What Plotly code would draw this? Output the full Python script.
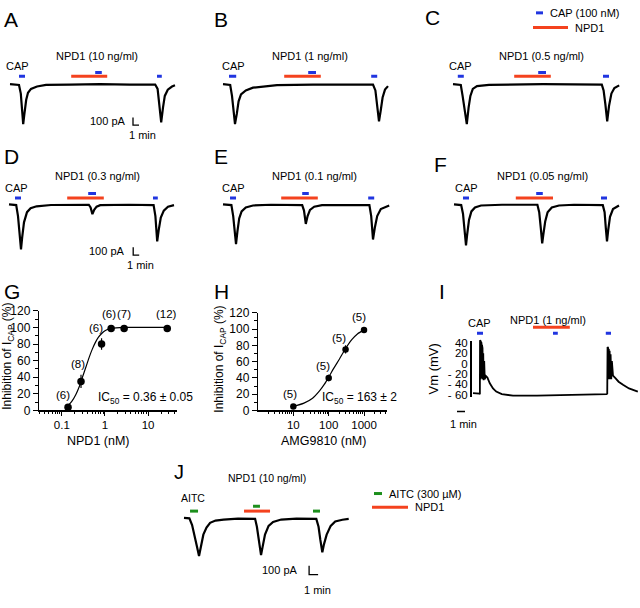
import math
import plotly.graph_objects as go

W, H = 640, 608
FONT = "Liberation Sans, Arial, Helvetica, sans-serif"
BLUE, RED, GREEN, BLACK = "#2035e0", "#f4421e", "#1c8f1c", "#000000"

# ---------------- data ----------------
# Panels A-F: whole-cell current traces, time (min) / current (pA)
A_t = [0, 1.5, 1.8, 2.0, 2.2, 2.4, 2.7, 3.0, 3.5, 4.5, 6, 10, 15, 20, 24.2, 24.6, 24.9, 25.2, 25.5, 25.8, 26.3, 27, 27.5]
A_i = [0, -10, -120, -300, -510, -380, -200, -110, -60, -30, -10, -5, 0, -5, -5, -60, -250, -490, -300, -150, -70, -30, -15]
B_t = [0, 1.2, 1.5, 1.8, 2.0, 2.3, 2.6, 3.0, 3.8, 5, 7, 9, 15, 20, 25, 25.4, 25.7, 26.0, 26.3, 26.6, 27, 27.5]
B_i = [0, -10, -150, -380, -510, -380, -220, -130, -80, -45, -25, -12, -5, -3, -5, -80, -300, -475, -330, -170, -70, -25]
C_t = [0, 1.3, 1.6, 1.9, 2.3, 2.6, 2.9, 3.3, 4, 6, 15, 24.8, 25.1, 25.4, 25.7, 26.0, 26.4, 26.9, 27.7]
C_i = [0, -10, -150, -330, -510, -300, -150, -60, -25, -8, 0, -5, -80, -260, -475, -280, -120, -50, -15]
D_t = [0, 1.2, 1.5, 1.8, 2.0, 2.2, 2.5, 3.0, 3.6, 4.6, 7, 13.3, 13.6, 13.9, 14.2, 14.6, 15.2, 20, 24.1, 24.4, 24.7, 24.95, 25.3, 25.8, 26.5, 27.5]
D_i = [0, -10, -150, -400, -575, -420, -230, -100, -50, -25, -8, -5, -40, -125, -70, -30, -10, -5, -10, -150, -475, -330, -170, -80, -30, -10]
E_t = [0, 1.4, 1.7, 2.0, 2.17, 2.4, 2.7, 3.1, 3.8, 5, 8, 13.2, 13.5, 13.8, 14.1, 14.5, 15.2, 16.5, 24.4, 24.7, 25.0, 25.3, 25.7, 26.3, 27.7]
E_i = [0, -10, -150, -380, -510, -350, -180, -90, -40, -15, -5, -10, -80, -250, -150, -70, -30, -10, -10, -150, -450, -300, -150, -60, -15]
F_t = [0, 1.2, 1.5, 1.8, 2.0, 2.2, 2.5, 2.9, 3.5, 4.5, 8, 13.9, 14.2, 14.5, 14.7, 14.9, 15.2, 15.6, 16.3, 17.5, 20, 24.8, 25.1, 25.3, 25.5, 25.7, 26.0, 26.5, 27.5]
F_i = [0, -10, -120, -350, -525, -380, -200, -90, -40, -15, -5, -5, -100, -330, -500, -380, -220, -100, -40, -15, -5, -10, -100, -300, -475, -330, -160, -60, -15]

# stimulus windows (min)
A_cap = [[1.5, 2.5], [14.2, 15.3], [24.5, 25.3]]
B_cap = [[1.0, 2.2], [14.2, 15.5], [24.7, 25.7]]
C_cap = [[0.8, 1.8], [14.2, 15.5], [25.0, 26.0]]
D_cap = [[1.0, 2.0], [13.2, 14.5], [24.0, 24.8]]
E_cap = [[1.17, 2.17], [13.2, 14.3], [24.2, 25.2]]
F_cap = [[1.5, 2.5], [13.7, 14.8], [24.5, 25.5]]
A_npd, B_npd, C_npd = [10.2, 16.2], [10.2, 16.3], [10.2, 16.3]
D_npd, E_npd, F_npd = [9.7, 15.8], [9.7, 15.8], [10.3, 16.5]
conc_labels = ["NPD1 (10 ng/ml)", "NPD1 (1 ng/ml)", "NPD1 (0.5 ng/ml)",
               "NPD1 (0.3 ng/ml)", "NPD1 (0.1 ng/ml)", "NPD1 (0.05 ng/ml)"]

# Panel J: AITC current, time (min) / current (pA)
J_t = [0, 0.6, 0.9, 1.2, 1.45, 1.67, 1.85, 2.15, 2.5, 2.9, 3.5, 4.4, 6, 7.9, 8.1, 8.3, 8.56, 8.75, 9.0, 9.4, 9.9, 10.8, 12.5,
       14.7, 14.95, 15.15, 15.37, 15.55, 15.85, 16.3, 16.8, 17.6, 18.3]
J_i = [0, -5, -80, -200, -330, -433, -330, -190, -110, -55, -30, -18, -8, -10, -100, -260, -422, -320, -190, -90, -45, -18, -8,
       -10, -100, -250, -390, -300, -190, -90, -40, -20, -10]
J_aitc = [[0.67, 1.56], [7.67, 8.44], [14.33, 15.11]]
J_npd = [6.67, 9.56]

# Panel I: membrane potential, time (min) / Vm (mV)
I_t = [0, 0.5, 0.8, 0.86, 0.88, 0.91, 0.94, 0.97, 1.0, 1.03, 1.06, 1.09, 1.12, 1.15, 1.19, 1.23, 1.28, 1.33, 1.4, 1.47,
       1.6, 1.8, 2.1, 2.5, 2.9, 3.6, 5, 8, 12, 16, 16.7, 16.78, 16.82, 16.86, 16.9, 16.94, 16.98, 17.03, 17.08, 17.14,
       17.2, 17.28, 17.36, 17.5, 17.8, 18.2, 18.75, 19.5, 20.6]
I_v = [-57, -57, -58, -59, 45, -35, 44, -30, 42, -28, 40, -28, 36, -28, 30, -30, 20, -32, 5, -30,
       -24, -27, -38, -48, -54, -59, -62, -62, -61, -60, -59, -58, 32, -35, 30, -30, 28, -30, 25, -30,
       18, -30, 5, -23, -28, -35, -41, -48, -54]
I_cap = [[0.5, 1.25], [10.0, 10.6], [16.6, 17.25]]
I_npd = [7.5, 12.1]
I_ticks = [-60, -40, -20, 0, 20, 40]
I_ticktext = ["- 60", "- 40", "- 20", "0", "20", "40"]

# Panel G: NPD1 dose-response
G_x = [0.139, 0.278, 0.833, 1.39, 2.78, 27.8]
G_y = [4, 35, 80, 98.8, 98.8, 98.8]
G_err = [2, 8, 7, 1.5, 1.5, 1.5]
G_n = ["(6)", "(8)", "(6)", "(6)", "(7)", "(12)"]
G_fit_x = [0.139, 0.17, 0.21, 0.25, 0.3, 0.36, 0.43, 0.5, 0.6, 0.7, 0.85, 1.0, 1.3, 1.8, 3, 10, 27.8]
G_fit_y = [6, 11, 19, 28, 40, 52, 64, 73, 82, 88, 93, 96, 98.5, 99.5, 100, 100, 100]
# Panel H: AMG9810 dose-response
H_x = [10, 100, 300, 1000]
H_y = [5, 40, 75, 99]
H_err = [1, 4, 5, 1]
H_n = ["(5)", "(5)", "(5)", "(5)"]
H_fit_x = [10, 20, 35, 55, 75, 100, 140, 200, 300, 450, 650, 1000]
H_fit_y = [5, 9, 15, 24, 32, 41, 52, 63, 76, 87, 94, 99]

# ---------------- helpers ----------------
def PX(x):
    return x / W


def PY(y):
    return 1 - y / H


fig = go.Figure()
layout = dict(width=W, height=H, autosize=False, margin=dict(l=0, r=0, t=0, b=0),
              paper_bgcolor="white", plot_bgcolor="rgba(0,0,0,0)", showlegend=False)
ann, shapes = [], []


def axnames(n):
    if n == 1:
        return "x", "y", "xaxis", "yaxis"
    return f"x{n}", f"y{n}", f"xaxis{n}", f"yaxis{n}"


def hidden_axes(n, x0, base, ppm, ppa, xr, yr):
    xa, ya, xk, yk = axnames(n)
    layout[xk] = dict(domain=[PX(x0 + xr[0] * ppm), PX(x0 + xr[1] * ppm)], range=xr,
                      visible=False, anchor=ya, fixedrange=True)
    layout[yk] = dict(domain=[PY(base - yr[0] * ppa), PY(base - yr[1] * ppa)], range=yr,
                      visible=False, anchor=xa, fixedrange=True)
    return xa, ya


def seg(xa, ya, x, y, color, width):
    fig.add_trace(go.Scatter(x=x, y=y, mode="lines", xaxis=xa, yaxis=ya, hoverinfo="skip",
                             line=dict(color=color, width=width)))


def text(s, x, y, xref, yref, size=11, xanchor="center", angle=0):
    ann.append(dict(text=s, x=x, y=y, xref=xref, yref=yref, showarrow=False, xanchor=xanchor,
                    yanchor="middle", textangle=angle, font=dict(family=FONT, size=size, color=BLACK)))


def letter(s, x, y, size=21):
    ann.append(dict(text=s, x=PX(x), y=PY(y), xref="paper", yref="paper", showarrow=False,
                    xanchor="left", yanchor="middle", font=dict(family=FONT, size=size, color=BLACK)))


def scalebar(xa, ya, tsb, ysb, t_len, i_len, lab_gap, min_dx, min_dy):
    seg(xa, ya, [tsb, tsb, tsb + t_len], [ysb, ysb - i_len, ysb - i_len], BLACK, 1.3)
    text("100 pA", tsb - lab_gap, ysb - i_len / 2, xa, ya, xanchor="right")
    text("1 min", tsb + min_dx, ysb - i_len - min_dy, xa, ya)


# ---------------- panels A-F ----------------
rows = [
    # t, i, caps, npd, x0, base, t_text, t_cap, levels(bar, mid, text, cap), scalebar
    (A_t, A_i, A_cap, A_npd, 10, 79, 14.5, 1.3, (100, 150, 362, 237), (20.5, -425, 0.8, 1.5, 125)),
    (B_t, B_i, B_cap, B_npd, 223, 79, 14.5, 1.7, (100, 150, 362, 237), None),
    (C_t, C_i, C_cap, C_npd, 453, 79, 14.8, 1.3, (100, 150, 362, 237), None),
    (D_t, D_i, D_cap, D_npd, 9, 202, 14.7, 1.3, (80, 140, 362, 212), (20.7, -550, 1.1, 1.2, 125)),
    (E_t, E_i, E_cap, E_npd, 223, 202, 15.2, 1.7, (80, 140, 362, 212), None),
    (F_t, F_i, F_cap, F_npd, 454, 202, 14.8, 2.0, (80, 140, 362, 212), None),
]
for k, (t, cur, caps, npd, x0, base, t_txt, t_cap, lv, sb) in enumerate(rows):
    n = k + 1
    xa, ya = hidden_axes(n, x0, base, 6, 0.08, [-1.5, 30], [-800, 450])
    seg(xa, ya, npd, [lv[0], lv[0]], RED, 3)
    for j, (s, e) in enumerate(caps):
        l = lv[1] if j == 1 else lv[0]
        seg(xa, ya, [s, e], [l, l], BLUE, 3)
    seg(xa, ya, t, cur, BLACK, 2.2)
    text(conc_labels[k], t_txt, lv[2], xa, ya)
    text("CAP", t_cap, lv[3], xa, ya)
    if sb:
        scalebar(xa, ya, sb[0], sb[1], 1, 100, sb[2], sb[3], sb[4])

# legend of panel C
shapes.append(dict(type="line", xref="paper", yref="paper", x0=PX(536), x1=PX(543), y0=PY(6), y1=PY(6),
                   line=dict(color=BLUE, width=3)))
text("CAP (100 nM)", PX(548), PY(6), "paper", "paper", xanchor="left")
shapes.append(dict(type="line", xref="paper", yref="paper", x0=PX(533), x1=PX(568), y0=PY(21), y1=PY(21),
                   line=dict(color=RED, width=3)))
text("NPD1", PX(573), PY(21), "paper", "paper", xanchor="left")

# ---------------- panel J ----------------
xa, ya = hidden_axes(7, 184, 523, 9, 0.09, [-1, 20], [-900, 600])
seg(xa, ya, J_npd, [78, 78], RED, 3)
for j, (s, e) in enumerate(J_aitc):
    l = 133 if j == 1 else 78
    seg(xa, ya, [s, e], [l, l], GREEN, 3)
seg(xa, ya, J_t, J_i, BLACK, 2.2)
text("NPD1 (10 ng/ml)", 9.2, 455, xa, ya, size=10.5)
text("AITC", 1.0, 222, xa, ya, size=10.5)
scalebar(xa, ya, 13.9, -544, 1, 100, 1.0, 0.9, 178)
shapes.append(dict(type="line", xref="paper", yref="paper", x0=PX(374), x1=PX(382), y0=PY(498), y1=PY(498),
                   line=dict(color=GREEN, width=3)))
text("AITC (300 \u00b5M)", PX(387), PY(498), "paper", "paper", xanchor="left")
shapes.append(dict(type="line", xref="paper", yref="paper", x0=PX(372), x1=PX(408), y0=PY(512), y1=PY(512),
                   line=dict(color=RED, width=3)))
text("NPD1", PX(413), PY(512), "paper", "paper", xanchor="left")

# ---------------- panel I ----------------
xa, ya = hidden_axes(10, 473, 365, 8, 0.53, [-2.5, 20.8], [-130, 110])
seg(xa, ya, I_npd, [70, 70], RED, 3)
for (s, e) in I_cap:
    seg(xa, ya, [s, e], [58.5, 58.5], BLUE, 3)
seg(xa, ya, I_t, I_v, BLACK, 1.8)
text("NPD1 (1 ng/ml)", 9.4, 85, xa, ya)
text("CAP", 0.75, 79, xa, ya)
seg(xa, ya, [-2, -1], [-92.5, -92.5], BLACK, 1.5)
text("1 min", -1.25, -117, xa, ya)
layout["yaxis11"] = dict(domain=[PY(399), PY(342)], range=[(365 - 399) / 0.53, (365 - 342) / 0.53],
                         anchor="free", position=PX(470), showline=True, linecolor=BLACK, linewidth=1.5,
                         ticks="", tickmode="array", tickvals=I_ticks, ticktext=I_ticktext,
                         showgrid=False, zeroline=False, fixedrange=True,
                         tickfont=dict(family=FONT, size=11.5, color=BLACK))
fig.add_trace(go.Scatter(x=[], y=[], xaxis="x10", yaxis="y11", mode="lines"))
text("Vm (mV)", PX(433), PY(371), "paper", "paper", size=13, angle=-90)

# ---------------- dose-response panels G, H ----------------
def dose_axes(n, xdom, ydom, xrange, majors, minors):
    xa, ya, xk, yk = axnames(n)
    tf = dict(family=FONT, size=12, color=BLACK)
    layout[xk] = dict(type="log", domain=[PX(xdom[0]), PX(xdom[1])], range=xrange, anchor=ya,
                      showline=True, linecolor=BLACK, linewidth=1.2, ticks="outside", ticklen=4,
                      tickwidth=1, tickcolor=BLACK, tickmode="array", tickvals=majors,
                      ticktext=[f"{v:g}" for v in majors], showgrid=False, zeroline=False,
                      minor=dict(tickmode="array", tickvals=minors, ticks="outside", ticklen=2.5,
                                 tickwidth=1, tickcolor=BLACK, showgrid=False),
                      tickfont=dict(family=FONT, size=11.5, color=BLACK), fixedrange=True)
    layout[yk] = dict(domain=[PY(ydom[1]), PY(ydom[0])], range=[0, 120], anchor=xa,
                      showline=True, linecolor=BLACK, linewidth=1.2, ticks="outside", ticklen=5,
                      tickwidth=1, tickcolor=BLACK, dtick=20, showgrid=False, zeroline=False,
                      minor=dict(dtick=10, ticks="outside", ticklen=3, tickwidth=1, tickcolor=BLACK,
                                 showgrid=False),
                      tickfont=tf, fixedrange=True)
    return xa, ya


def dose_panel(n, xdom, ydom, xrange, majors, minors, fx, fy, x, y, err, labels, shifts, msize):
    xa, ya = dose_axes(n, xdom, ydom, xrange, majors, minors)
    fig.add_trace(go.Scatter(x=fx, y=fy, mode="lines", xaxis=xa, yaxis=ya, hoverinfo="skip",
                             line=dict(color=BLACK, width=1.2, shape="spline", smoothing=0.8)))
    fig.add_trace(go.Scatter(x=x, y=y, mode="markers", xaxis=xa, yaxis=ya, cliponaxis=False,
                             marker=dict(color=BLACK, size=msize),
                             error_y=dict(type="data", array=err, color=BLACK, thickness=1.2, width=0)))
    for xi, yi, lab, (dx, dy) in zip(x, y, labels, shifts):
        ann.append(dict(text=lab, x=math.log10(xi), y=yi, xref=xa, yref=ya, showarrow=False,
                        xshift=dx, yshift=dy, font=dict(family=FONT, size=11.5, color=BLACK)))
    return xa, ya


g_minor = [v / 100 for v in range(3, 10)] + [v / 10 for v in range(2, 10)] + list(range(2, 10)) + [20, 30, 40]
dose_panel(8, (39, 177), (311, 413), [-1.53, 1.67], [0.1, 1, 10], g_minor, G_fit_x, G_fit_y, G_x, G_y, G_err,
           G_n, [(-5, 12), (-3, 17), (-6, 16), (-2, 14), (0, 14), (-1, 14)], 7.5)
h_minor = list(range(2, 10)) + list(range(20, 100, 10)) + list(range(200, 1000, 100)) + [2000, 3000, 4000]
dose_panel(9, (258, 387), (313, 413), [0.0, 3.65], [10, 100, 1000], h_minor, H_fit_x, H_fit_y, H_x, H_y, H_err,
           H_n, [(-3, 12), (-6, 12), (-7, 11), (-5, 13)], 6.5)

text("Inhibition of I<sub>CAP</sub> (%)", PX(8), PY(358), "paper", "paper", size=12, angle=-90)
text("NPD1 (nM)", PX(98), PY(444), "paper", "paper", size=12.5)
text("IC<sub>50</sub> = 0.36 \u00b1 0.05", PX(145), PY(400), "paper", "paper", size=12)
text("Inhibition of I<sub>CAP</sub> (%)", PX(220), PY(361), "paper", "paper", size=12, angle=-90)
text("AMG9810 (nM)", PX(323), PY(444), "paper", "paper", size=12.5)
text("IC<sub>50</sub> = 163 \u00b1 2", PX(359), PY(400), "paper", "paper", size=12)

# ---------------- panel letters ----------------
for s, x, y in [("A", 2, 13), ("B", 212, 13), ("C", 423, 11), ("D", 2, 153), ("E", 212, 153),
                ("F", 432, 161), ("G", 2, 291), ("H", 212, 291), ("I", 437, 291)]:
    letter(s, x, y)
letter("J", 172, 476, size=20)

layout["annotations"] = ann
layout["shapes"] = shapes
fig.update_layout(**layout)
fig.write_html("out.html", config={"displayModeBar": False, "staticPlot": True},
               post_script="document.body.style.margin='0px';")
